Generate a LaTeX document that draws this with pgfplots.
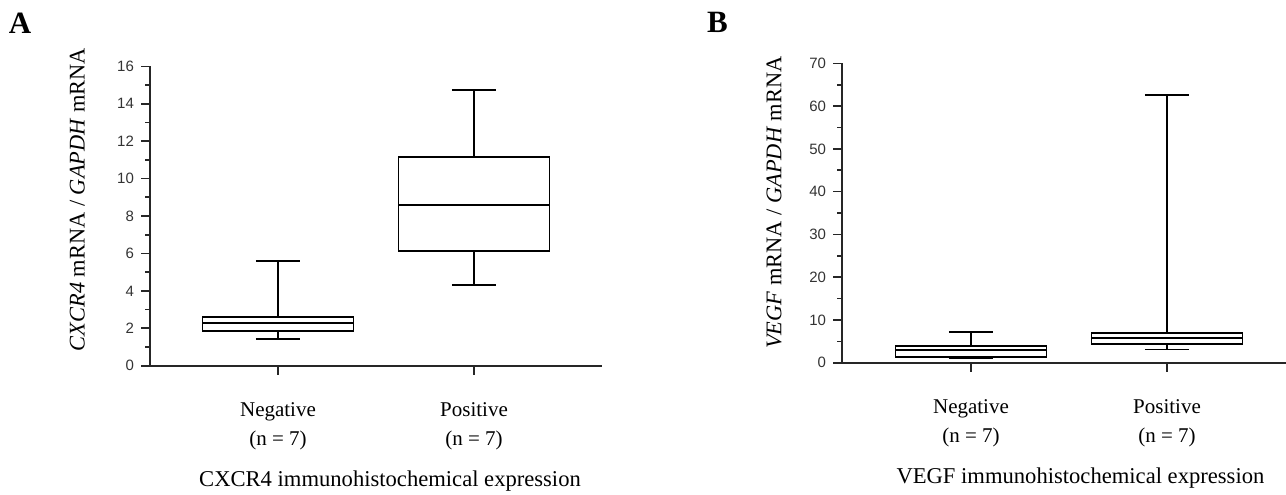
\documentclass[border=0pt]{standalone}
\usepackage{fontspec}
\setmainfont{Liberation Serif}
\newfontfamily\tickfont{Liberation Sans}
\usepackage{pgfplots}
\pgfplotsset{compat=1.18}
\usepgfplotslibrary{statistics}

\pgfplotsset{
  boxstyle/.style={
    scale only axis, height=149.7pt,
    axis x line=bottom, axis y line=left,
    axis line style={-, line width=0.9pt, black!85},
    tick align=outside,
    major tick length=4.5pt, minor tick length=2.5pt,
    tick style={line width=0.8pt, black!85},
    xtick={1,2},
    xticklabels={{Negative\\(n = 7)},{Positive\\(n = 7)}},
    xticklabel style={align=center, font=\fontsize{10.5}{14.5}\selectfont, yshift=-10.5pt},
    yticklabel style={font=\tickfont\fontsize{7.5}{9}\selectfont, text=black!80},
    /pgf/number format/assume math mode=true,
    minor y tick num=1,
    ymin=0,
    label style={font=\fontsize{11.2}{13}\selectfont},
    xlabel style={font=\fontsize{11.3}{13}\selectfont, anchor=base},
    ylabel style={anchor=center},
    boxplot/draw direction=y,
  },
  bx/.style={black, line width=0.9pt, solid, mark=none, fill=none},
}

\begin{document}
\begin{tikzpicture}
\useasboundingbox (0,0) rectangle (643pt,-247pt);
\node[font=\bfseries\fontsize{15.5}{17}\selectfont] at (10pt,-11.75pt) {A};
\node[font=\bfseries\fontsize{15.5}{17}\selectfont] at (358.75pt,-11.25pt) {B};

% panel A
\begin{axis}[boxstyle, at={(75pt,-182.85pt)}, anchor=south west,
    width=226pt, xmin=0.347, xmax=2.653,
    ymax=16, ytick={0,2,...,16},
    xlabel={CXCR4 immunohistochemical expression},
    xlabel style={at={(axis description cs:0.531,-0.402)}},
    ylabel={\textit{CXCR4} mRNA / \textit{GAPDH} mRNA},
    ylabel style={at={(axis description cs:-0.161,0.555)}},
]
\addplot[bx, boxplot prepared={draw position=1,
    lower whisker=1.41, lower quartile=1.84, median=2.27,
    upper quartile=2.59, upper whisker=5.6,
    box extend=0.77, whisker extend=0.225}] coordinates {};
\addplot[bx, boxplot prepared={draw position=2,
    lower whisker=4.32, lower quartile=6.12, median=8.58,
    upper quartile=11.14, upper whisker=14.74,
    box extend=0.77, whisker extend=0.225}] coordinates {};
\end{axis}

% panel B
\begin{axis}[boxstyle, at={(421pt,-181.35pt)}, anchor=south west,
    width=222pt, xmin=0.342, xmax=2.607,
    ymax=70, ytick={0,10,...,70},
    xlabel={VEGF immunohistochemical expression},
    xlabel style={at={(axis description cs:0.537,-0.402)}},
    ylabel={\textit{VEGF} mRNA / \textit{GAPDH} mRNA},
    ylabel style={at={(axis description cs:-0.153,0.535)}},
]
\addplot[bx, boxplot prepared={draw position=1,
    lower whisker=1.0, lower quartile=1.4, median=3.0,
    upper quartile=4.0, upper whisker=7.1,
    box extend=0.77, whisker extend=0.225}] coordinates {};
\addplot[bx, boxplot prepared={draw position=2,
    lower whisker=3.1, lower quartile=4.45, median=5.85,
    upper quartile=7.0, upper whisker=62.5,
    box extend=0.77, whisker extend=0.225}] coordinates {};
\end{axis}
\end{tikzpicture}
\end{document}
